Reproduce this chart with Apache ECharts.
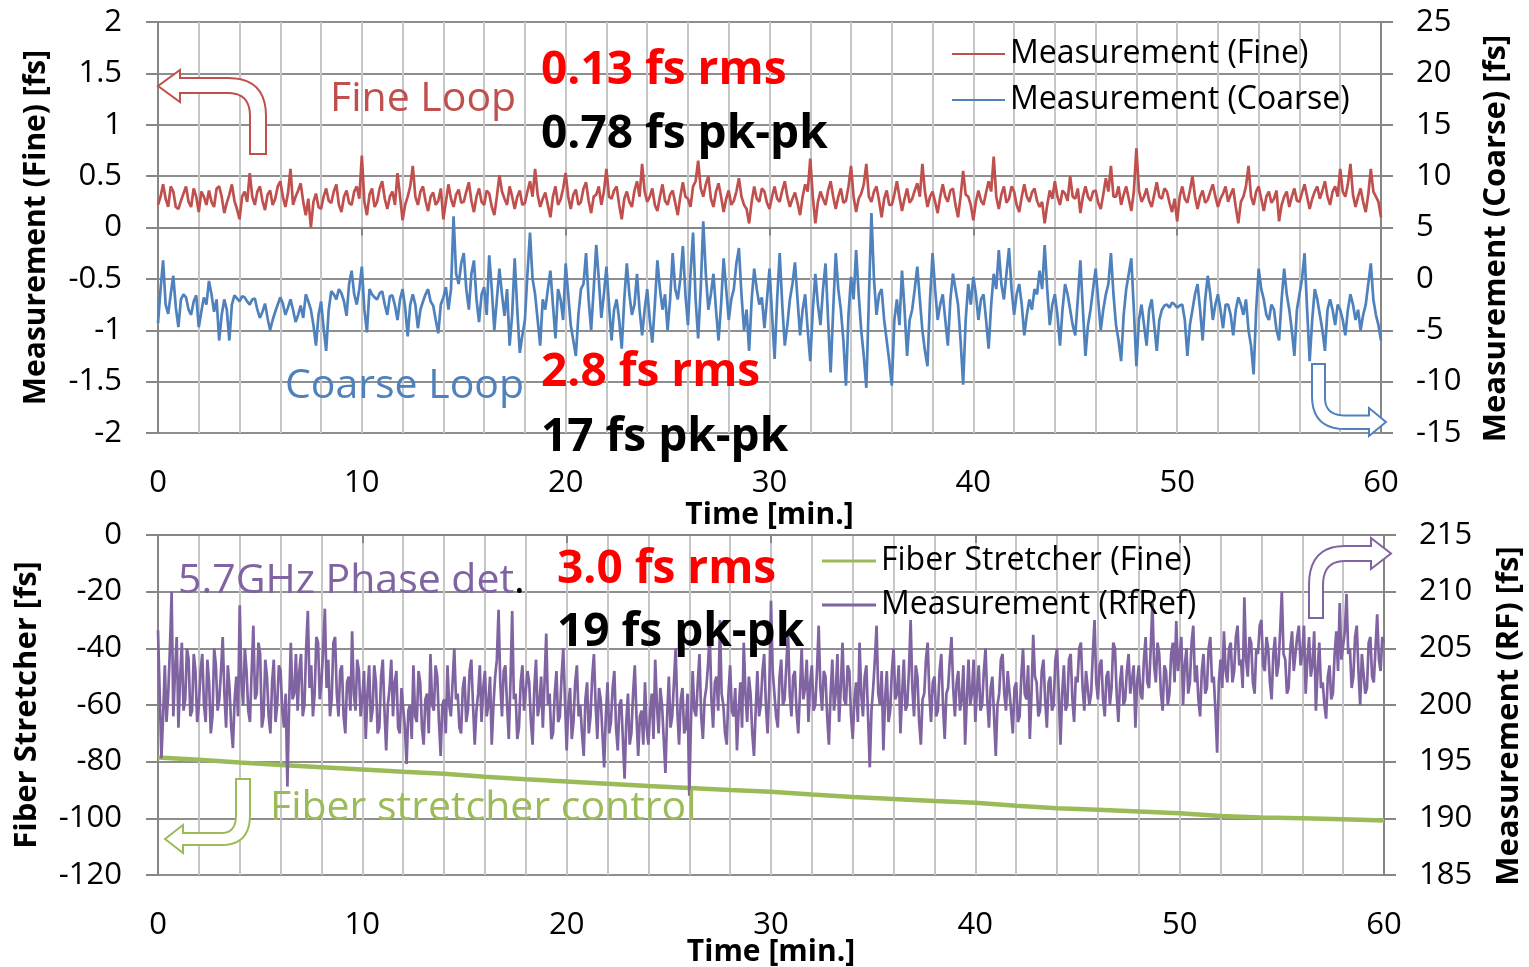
<!DOCTYPE html>
<html>
<head>
<meta charset="utf-8">
<script src="https://cdn.jsdelivr.net/npm/echarts@6/dist/echarts.min.js"></script>
<style>
html,body{margin:0;padding:0;background:#fff;}
#chart{width:1529px;height:967px;}
</style>
</head>
<body>
<div id="chart"></div>
<script>
// ---------------- DATA ----------------
// Top panel: sampling step of the traces [min]
const fineStep = 0.125;
// Measurement (Fine) [fs], left axis
const fine = [
 0.22,0.3,0.42,0.28,0.2,0.4,0.35,0.2,0.18,0.26,0.33,0.4,0.25,0.2,0.38,0.3,0.15,0.35,0.3,0.22,
 0.36,0.25,0.2,0.38,0.4,0.3,0.14,0.24,0.32,0.42,0.26,0.18,0.08,0.3,0.35,0.25,0.53,0.3,0.22,0.35,
 0.4,0.26,0.17,0.32,0.36,0.22,0.28,0.4,0.45,0.3,0.2,0.33,0.57,0.22,0.3,0.36,0.43,0.25,0.12,0.28,
 0.0,0.25,0.33,0.2,0.18,0.3,0.38,0.26,0.24,0.35,0.42,0.22,0.15,0.3,0.36,0.24,0.22,0.35,0.4,0.28,
 0.70,0.25,0.12,0.32,0.38,0.2,0.25,0.38,0.45,0.28,0.18,0.3,0.35,0.22,0.53,0.3,0.07,0.22,0.3,0.4,
 0.6,0.3,0.22,0.35,0.4,0.26,0.16,0.3,0.34,0.22,0.26,0.38,0.08,0.25,0.42,0.28,0.2,0.32,0.37,0.24,
 0.25,0.35,0.44,0.26,0.15,0.3,0.38,0.25,0.22,0.36,0.33,0.2,0.12,0.3,0.51,0.35,0.28,0.22,0.4,0.3,
 0.18,0.3,0.36,0.22,0.24,0.35,0.45,0.3,0.57,0.32,0.2,0.28,0.34,0.22,0.1,0.3,0.4,0.22,0.27,0.38,
 0.53,0.3,0.18,0.32,0.37,0.22,0.25,0.38,0.44,0.26,0.14,0.3,0.32,0.4,0.22,0.35,0.57,0.3,0.28,0.36,
 0.4,0.22,0.08,0.28,0.35,0.25,0.2,0.36,0.45,0.3,0.62,0.35,0.25,0.3,0.38,0.22,0.16,0.3,0.42,0.26,
 0.22,0.32,0.36,0.24,0.12,0.3,0.44,0.3,0.28,0.2,0.4,0.45,0.65,0.38,0.3,0.42,0.5,0.28,0.2,0.35,
 0.43,0.3,0.15,0.28,0.36,0.22,0.26,0.35,0.48,0.3,0.22,0.18,0.04,0.25,0.4,0.28,0.25,0.38,0.35,0.24,
 0.18,0.3,0.4,0.28,0.25,0.36,0.45,0.3,0.2,0.28,0.34,0.24,0.12,0.3,0.42,0.35,0.67,0.3,0.04,0.25,
 0.35,0.28,0.22,0.36,0.45,0.3,0.18,0.3,0.38,0.24,0.26,0.4,0.6,0.3,0.15,0.28,0.33,0.42,0.62,0.3,
 0.25,0.35,0.4,0.26,0.1,0.28,0.36,0.22,0.22,0.32,0.45,0.3,0.16,0.28,0.38,0.24,0.28,0.36,0.43,0.3,
 0.62,0.35,0.2,0.3,0.35,0.25,0.14,0.3,0.42,0.3,0.25,0.36,0.38,0.22,0.1,0.3,0.55,0.32,0.3,0.22,
 0.07,0.25,0.36,0.26,0.22,0.34,0.45,0.35,0.69,0.3,0.18,0.32,0.4,0.24,0.28,0.4,0.35,0.22,0.15,0.3,
 0.42,0.3,0.25,0.34,0.38,0.26,0.2,0.25,0.04,0.22,0.36,0.28,0.45,0.3,0.22,0.36,0.33,0.26,0.5,0.3,
 0.28,0.38,0.14,0.3,0.4,0.3,0.26,0.35,0.36,0.24,0.18,0.32,0.48,0.35,0.6,0.3,0.3,0.4,0.22,0.32,
 0.4,0.28,0.16,0.35,0.77,0.36,0.25,0.3,0.38,0.26,0.2,0.32,0.44,0.3,0.28,0.38,0.35,0.24,0.15,0.28,
 0.06,0.3,0.4,0.28,0.24,0.36,0.5,0.3,0.18,0.3,0.36,0.24,0.27,0.35,0.42,0.3,0.2,0.28,0.33,0.4,
 0.25,0.32,0.38,0.2,0.04,0.25,0.3,0.4,0.6,0.3,0.22,0.35,0.4,0.28,0.16,0.3,0.35,0.24,0.28,0.36,
 0.06,0.22,0.3,0.35,0.2,0.3,0.38,0.26,0.25,0.34,0.42,0.3,0.18,0.28,0.35,0.4,0.28,0.36,0.45,0.3,
 0.22,0.35,0.4,0.3,0.57,0.35,0.3,0.42,0.62,0.32,0.2,0.3,0.38,0.25,0.15,0.32,0.57,0.35,0.3,0.25,
 0.1
];
const coarseStep = 0.125;
// Measurement (Coarse) [fs], right axis
const coarse = [
 -4.3,-1.0,1.8,-2.5,-3.4,-1.5,0.3,-2.8,-4.7,-2.0,-1.5,-1.8,-3.0,-3.5,-2.2,-1.6,-4.7,-3.2,-1.8,-2.5,
 -0.2,-1.5,-3.2,-2.0,-6.0,-3.5,-2.0,-3.0,-6.0,-2.5,-1.6,-1.9,-2.2,-1.7,-1.8,-2.2,-2.5,-2.0,-1.9,-3.0,
 -3.8,-3.2,-2.4,-3.8,-5.0,-4.0,-3.2,-2.5,-1.8,-2.4,-3.5,-2.8,-2.0,-3.0,-4.2,-3.5,-2.6,-3.8,-1.5,-2.2,
 -3.0,-4.5,-6.5,-3.5,-2.2,-4.8,-7.0,-3.0,-1.2,-1.5,-2.0,-1.0,-1.4,-2.2,-3.6,-0.5,0.8,-1.5,-2.5,-1.0,
 1.2,-3.0,-5.2,-1.0,-1.5,-1.8,-2.0,-1.4,-1.2,-2.5,-3.5,-1.7,-1.6,-2.6,-4.0,-2.0,-1.0,-2.8,-5.6,-2.5,
 -1.5,-2.5,-4.8,-3.0,-2.2,-1.5,-1.0,-2.2,-2.6,-4.0,-5.3,-2.5,-1.8,-0.8,-3.0,-1.0,6.1,0.5,-0.5,1.5,
 2.5,-1.0,-3.0,0.5,1.8,-2.0,-4.2,-1.5,-0.8,-3.5,2.3,-1.0,-5.0,-2.0,1.0,-1.5,-3.6,-1.0,-6.5,-3.5,
 2.0,-3.0,-7.2,-5.5,-4.0,0.5,4.5,0.0,-1.5,-4.0,-6.5,-2.0,-3.0,-1.0,0.8,-2.5,-5.8,-1.0,-2.0,-4.0,
 1.5,-1.5,-4.5,-6.0,-7.5,-3.5,-1.0,-0.5,2.5,-2.0,-5.0,-1.0,3.3,0.0,-3.8,-1.5,1.2,-2.5,-6.0,-3.0,
 -2.0,-4.0,-6.8,-2.0,1.5,-1.5,-3.5,-2.5,0.5,-3.0,-5.5,-3.0,-1.0,-4.0,-6.2,-2.5,1.8,-1.0,-3.0,-1.5,
 -5.0,-2.0,2.5,-1.0,-2.0,0.0,3.2,-1.5,-4.5,0.5,4.5,-2.0,-5.8,-1.0,5.6,0.5,-3.0,-1.5,0.5,-3.0,
 -6.0,-2.5,2.0,-1.0,-4.0,-2.0,-1.0,1.5,3.0,-1.5,-5.0,-3.0,-7.0,-2.0,1.0,-1.0,-2.5,-1.8,-4.8,-2.0,
 1.0,-3.5,-7.8,-2.0,2.5,-2.5,-6.5,-4.5,-2.0,-0.5,1.6,-2.0,-5.5,-3.0,-1.5,-5.0,-8.0,-3.0,0.5,-2.5,
 -4.5,-1.0,1.5,-4.0,-9.1,-3.0,2.5,-1.0,-3.0,-6.0,-10.4,-3.5,0.2,-2.0,2.8,-1.5,-5.0,-7.5,-10.6,-2.0,
 6.4,0.0,-3.5,-1.5,-1.0,-4.0,-6.0,-8.0,-10.4,-4.0,-2.0,-4.5,0.8,-3.0,-7.5,-4.0,-3.0,-1.0,1.2,-2.0,
 -5.0,-7.0,-8.5,-2.0,2.5,-1.0,-4.0,-2.5,-1.5,-4.0,-6.5,-2.0,0.5,-1.0,-2.5,-6.0,-10.3,-4.0,-0.5,-2.5,
 0.2,-1.5,-4.0,-2.0,-1.5,-4.0,-6.8,-2.5,0.5,-1.0,2.8,-0.5,-2.0,0.5,3.0,-1.0,-3.5,-1.5,-0.5,-2.5,
 -5.5,-3.5,-2.0,-3.0,-1.0,-1.5,0.8,-1.0,3.3,-1.0,-4.5,-2.5,-1.5,-3.5,-6.5,-3.0,-0.5,-1.5,-3.0,-4.5,
 -5.5,-2.0,1.8,-3.0,-7.5,-4.5,-3.0,-1.0,1.0,-2.0,-5.0,-3.0,-1.5,-0.5,2.5,-1.5,-4.5,-6.0,-8.0,-3.5,
 -1.0,0.5,2.0,-3.0,-8.5,-4.0,-2.5,-4.5,-6.5,-3.0,-2.0,-4.5,-7.0,-4.0,-3.0,-2.6,-2.5,-2.8,-2.3,-2.5,
 -2.8,-2.6,-2.5,-4.0,-7.5,-4.5,-3.0,-1.5,-0.5,-3.0,-6.0,-2.0,0.3,-1.5,-4.0,-2.5,-1.5,-3.0,-4.8,-2.5,
 -2.5,-3.5,-5.5,-3.0,-1.8,-2.5,-3.5,-2.0,-5.0,-6.5,-9.3,-3.0,1.0,-1.0,-2.0,-3.5,-4.0,-2.5,-3.0,-5.0,
 -6.0,-2.0,1.0,-1.5,-3.0,-5.0,-7.5,-3.0,-1.5,0.0,2.5,-3.0,-8.0,-4.0,-1.0,-2.0,-3.5,-5.0,-7.0,-3.0,
 -2.0,-3.0,-4.5,-2.5,-3.0,-4.0,-5.5,-3.0,-1.5,-2.5,-4.0,-3.0,-5.0,-3.5,-2.5,-0.5,1.5,-2.0,-3.5,-4.5,
 -6.0
];
// Bottom panel
const rfStep = 1 / 12;
// Measurement (RfRef) [fs], right axis
const rfRef = [
 206.6,201.0,195.3,199.0,203.5,198.5,201.0,205.0,210.0,199.0,203.0,206.0,198.0,202.5,205.5,199.5,200.5,205.0,204.0,199.0,199.5,204.5,203.0,198.5,
 200.0,203.0,204.5,200.0,198.5,204.0,202.0,197.5,199.0,205.0,203.5,199.5,200.5,203.0,206.0,201.0,198.0,203.5,201.5,198.0,196.2,200.5,202.5,199.0,
 208.8,202.0,200.0,205.0,203.0,199.5,198.5,203.0,207.0,200.5,201.0,205.5,204.5,198.0,199.0,204.0,202.5,199.0,197.5,202.0,204.0,198.5,200.0,203.5,
 203.0,199.5,198.0,201.0,192.8,200.0,205.5,200.5,201.0,204.5,199.5,203.0,204.5,199.0,200.0,205.0,208.3,201.5,203.5,199.0,201.0,206.0,205.5,200.5,
 202.0,205.0,208.5,201.5,204.0,199.0,200.5,205.5,206.0,201.0,199.0,203.0,203.5,199.0,197.5,202.0,202.5,199.5,206.5,201.0,199.5,204.0,203.0,199.0,
 200.5,203.0,197.0,201.0,203.5,198.5,199.5,203.5,202.0,197.5,198.0,202.5,204.0,199.5,196.0,200.0,201.5,204.0,199.0,202.0,203.0,198.0,197.5,201.5,
 201.5,198.0,194.8,199.5,200.0,197.0,203.5,199.0,198.5,203.0,202.0,198.0,196.5,200.5,201.0,197.5,204.5,200.0,199.5,203.5,202.5,198.5,195.5,200.0,
 200.5,197.5,203.5,200.0,199.0,202.0,205.0,200.5,201.0,198.0,197.5,201.5,202.5,198.5,199.5,203.0,204.0,200.0,196.5,199.5,201.0,203.5,198.5,201.5,
 203.0,199.0,200.0,202.5,196.5,200.0,202.5,204.0,208.4,202.0,199.0,203.0,203.5,200.0,197.0,202.0,208.3,200.5,201.0,197.0,198.0,202.0,203.5,199.5,
 199.5,203.0,202.0,198.5,196.5,201.5,204.0,199.0,200.0,202.5,198.0,202.0,206.3,200.0,201.0,197.0,197.5,201.0,203.0,198.5,199.0,202.5,205.0,200.5,
 196.0,200.0,201.5,197.0,198.5,202.0,203.5,199.0,200.0,197.5,195.5,200.5,202.0,197.5,199.0,202.5,204.5,200.0,197.0,201.5,200.5,197.5,194.5,199.0,
 202.0,197.5,198.5,201.5,203.0,198.0,196.0,200.0,200.5,197.0,193.5,198.5,201.0,196.5,197.5,201.0,203.5,199.0,195.5,199.0,199.5,196.5,202.0,198.0,
 196.5,199.5,201.0,197.0,204.0,200.0,197.5,201.5,200.0,197.0,194.0,199.0,202.5,198.0,199.0,202.0,205.0,199.5,196.5,200.5,201.5,197.5,198.0,201.0,
 192.0,198.5,203.0,199.5,199.0,202.0,204.5,199.0,197.0,200.5,201.5,203.5,206.5,200.5,198.0,202.0,202.5,199.5,207.5,201.0,200.0,197.5,196.5,201.0,
 203.5,199.5,199.0,201.5,196.0,199.5,202.0,198.0,205.5,201.0,198.5,202.5,201.0,197.5,195.5,199.5,203.0,199.0,200.0,203.0,204.5,200.0,197.5,201.5,
 209.2,203.0,201.0,199.0,198.0,202.5,204.0,200.0,200.5,203.5,206.5,201.0,199.0,202.5,203.0,199.5,197.5,201.0,205.0,200.5,201.5,204.0,198.5,202.0,
 203.5,199.5,200.0,203.0,207.0,201.5,199.5,203.0,202.5,199.0,196.5,201.0,204.0,199.5,201.0,204.5,198.5,201.5,205.5,200.5,200.0,203.5,203.0,199.0,
 197.0,200.5,202.0,198.5,205.5,201.0,199.0,202.5,203.5,199.0,194.5,199.5,201.5,204.0,207.0,201.0,200.0,203.0,196.0,200.5,203.0,198.5,199.5,203.0,
 205.0,200.5,201.0,203.5,197.5,201.0,204.0,199.5,200.0,203.0,207.5,201.5,199.0,203.5,202.5,198.5,196.5,200.5,201.0,204.0,205.5,201.0,198.5,202.0,
 202.5,199.0,199.5,203.0,204.5,200.0,197.0,201.0,201.5,204.0,206.0,201.5,199.0,202.0,203.0,199.5,200.5,203.5,196.5,200.5,204.0,200.0,201.0,204.0,
 198.5,201.5,203.5,199.5,200.0,203.0,205.0,200.5,198.0,201.5,202.5,199.0,195.5,200.0,201.0,204.0,204.5,201.0,199.5,203.0,203.0,199.5,197.5,201.5,
 202.0,198.5,199.0,202.5,205.0,201.0,200.5,203.5,197.0,201.0,206.2,202.5,202.0,199.0,199.5,203.0,204.0,200.5,198.0,202.0,202.5,199.5,200.0,204.0,
 205.0,201.0,196.5,201.0,203.5,199.5,200.0,204.0,204.5,200.5,198.5,202.5,202.0,205.0,205.5,201.5,199.5,203.0,203.0,200.0,201.0,204.5,207.5,202.0,
 200.5,203.5,204.0,200.5,199.0,202.5,203.0,200.0,201.5,205.5,205.0,201.0,198.5,202.0,203.5,200.0,200.5,203.0,204.5,201.0,201.0,203.5,198.0,202.0,
 203.5,201.0,200.5,204.0,206.0,202.0,201.5,205.0,209.0,203.5,202.0,205.5,204.5,201.0,199.5,203.5,203.0,200.0,201.0,204.5,205.5,202.0,207.4,203.0,
 203.0,206.0,200.0,203.5,205.0,201.0,202.0,205.5,207.0,202.0,203.5,200.5,199.0,203.0,204.5,201.0,201.5,205.0,206.0,202.0,202.5,199.5,195.8,202.0,
 204.0,201.5,206.5,203.0,202.0,205.0,205.5,202.0,203.0,206.0,207.0,203.5,204.0,201.5,209.5,204.0,202.5,206.0,205.5,202.0,201.0,205.0,204.5,207.0,
 207.5,203.5,203.0,206.0,205.0,202.0,200.5,204.5,206.0,202.5,203.5,206.5,210.0,204.5,204.0,201.0,201.5,205.0,206.5,203.0,203.0,206.0,207.0,203.5,
 204.5,207.0,201.0,204.0,206.0,202.5,203.5,206.5,199.5,203.0,205.5,201.5,202.0,200.0,198.8,202.5,203.5,200.5,201.0,204.5,206.5,203.0,209.0,204.0,
 204.0,206.5,209.8,204.5,205.0,201.5,202.5,206.0,207.0,203.0,200.0,204.5,204.5,201.0,201.5,205.5,206.0,202.5,202.0,205.0,208.0,204.0,203.0,206.0,
 205.5
];
// Fiber Stretcher (Fine) [fs], left axis
const stretcherTime = [0,2,4,6,8,10,12,14,16,18,20,22,24,26,28,30,32,34,36,38,40,42,44,46,48,50,52,54,56,58,60];
const stretcher = [-78.5,-79.3,-80.3,-81.2,-82.0,-82.8,-83.6,-84.3,-85.3,-86.2,-87.0,-87.8,-88.6,-89.3,-90.0,-90.6,
 -91.6,-92.5,-93.2,-93.9,-94.5,-95.6,-96.4,-97.0,-97.6,-98.2,-99.2,-99.7,-100.0,-100.3,-100.8];

// Axis tick settings
const timeTicks = {min: 0, max: 60, minor: 2, major: 10};
const fineAxis = {min: -2, max: 2, interval: 0.5};
const coarseAxis = {min: -15, max: 25, interval: 5};
const stretcherAxis = {min: -120, max: 0, interval: 20};
const rfAxis = {min: 185, max: 215, interval: 5};

// ---------------- STYLE ----------------
const FONT = 'Open Sans';
const C_RED = '#C0504D', C_BLUE = '#4F81BD', C_PURPLE = '#8064A2', C_GREEN = '#9BBB59';
const AX = '#868686';
const HGRID = '#8e8e8e';
const VGRID = '#c6c6c6';

const chart = echarts.init(document.getElementById('chart'), null, {renderer: 'canvas'});

function timeLabelAxis(gridIndex, labelMargin, nameGap) {
  return {
    gridIndex, type: 'value', min: timeTicks.min, max: timeTicks.max, interval: timeTicks.minor,
    position: 'bottom',
    axisLine: {show: false, onZero: false},
    axisTick: {show: false},
    axisLabel: {formatter: v => (v % timeTicks.major === 0 ? String(v) : ''), fontSize: 31, color: '#000', fontFamily: FONT, margin: labelMargin},
    splitLine: {show: true, lineStyle: {color: VGRID, width: 2}},
    name: 'Time [min.]', nameLocation: 'middle', nameGap: nameGap, nameMoveOverlap: false,
    nameTextStyle: {fontWeight: 'bold', fontSize: 30, fontFamily: FONT, color: '#000'}
  };
}
function zeroAxis(gridIndex, yIdx) {
  return {
    gridIndex, type: 'value', min: timeTicks.min, max: timeTicks.max, interval: timeTicks.major,
    position: 'bottom',
    axisLine: {show: true, onZero: true, onZeroAxisIndex: yIdx, lineStyle: {color: AX, width: 2}},
    axisTick: {show: true, length: 8, lineStyle: {color: AX, width: 2}},
    axisLabel: {show: false},
    splitLine: {show: false}
  };
}
function yAx(gridIndex, pos, rng, name, nameGap, split, nameSize, namePad) {
  return {
    gridIndex, type: 'value', position: pos, min: rng.min, max: rng.max, interval: rng.interval,
    axisLine: {show: true, onZero: false, lineStyle: {color: AX, width: 2}},
    axisTick: {show: true, length: 12, lineStyle: {color: AX, width: 2}},
    axisLabel: {fontSize: 31, color: '#000', fontFamily: FONT, margin: pos === 'left' ? 36 : 35},
    splitLine: {show: split, lineStyle: {color: HGRID, width: 2}},
    name: name, nameLocation: 'middle', nameGap: nameGap, nameRotate: 90,
    nameTextStyle: {fontWeight: 'bold', fontSize: nameSize, fontFamily: FONT, color: '#000', padding: namePad}
  };
}

const txt = (text, x, y, size, color, bold) => ({
  type: 'text', x, y, z: 10,
  style: {text, fill: color, font: (bold ? 'bold ' : '') + size + 'px "' + FONT + '"', align: 'left', verticalAlign: 'middle'}
});
// Outline of a bent arrow: straight segments plus quadratic corners ['Q', cx, cy, x, y]
function arrowPoints(cmds) {
  const pts = [];
  let cur = null;
  cmds.forEach(c => {
    if (c[0] === 'Q') {
      const [, cx, cy, x, y] = c;
      for (let k = 1; k <= 10; k++) {
        const s = k / 10;
        pts.push([(1 - s) * (1 - s) * cur[0] + 2 * (1 - s) * s * cx + s * s * x,
                  (1 - s) * (1 - s) * cur[1] + 2 * (1 - s) * s * cy + s * s * y]);
      }
      cur = [x, y];
    } else {
      pts.push(c);
      cur = c;
    }
  });
  return pts;
}
const arrow = (cmds, color) => ({
  type: 'polygon', z: 1, shape: {points: arrowPoints(cmds)},
  style: {fill: '#ffffff', stroke: color, lineWidth: 2}
});

const option = {
  animation: false,
  backgroundColor: '#ffffff',
  textStyle: {fontFamily: FONT},
  grid: [
    {left: 158, right: 148, top: 22, height: 411, outerBoundsMode: 'none', containLabel: false},
    {left: 158, right: 145, top: 535, height: 340, outerBoundsMode: 'none', containLabel: false}
  ],
  xAxis: [timeLabelAxis(0, 35, 67), zeroAxis(0, 0), timeLabelAxis(1, 35, 62), zeroAxis(1, 2)],
  yAxis: [
    yAx(0, 'left', fineAxis, 'Measurement (Fine) [fs]', 107, true, 30, 0),
    yAx(0, 'right', coarseAxis, 'Measurement (Coarse) [fs]', 100, false, 31, [0, 22, 0, 0]),
    yAx(1, 'left', stretcherAxis, 'Fiber Stretcher [fs]', 115, true, 31, 0),
    yAx(1, 'right', rfAxis, 'Measurement (RF) [fs]', 110, false, 31, [0, 22, 0, 0])
  ],
  legend: [
    {data: ['Measurement (Fine)', 'Measurement (Coarse)'], orient: 'vertical', left: 952, top: 36, padding: 0,
     icon: 'rect', itemWidth: 53, itemHeight: 2, itemGap: 10, selectedMode: false,
     textStyle: {fontSize: 32, fontFamily: FONT, color: '#000', lineHeight: 36}},
    {data: ['Fiber Stretcher (Fine)', 'Measurement (RfRef)'], orient: 'vertical', left: 822, top: 543, padding: 0,
     icon: 'rect', itemWidth: 54, itemHeight: 3, itemGap: 8, selectedMode: false,
     textStyle: {fontSize: 32, fontFamily: FONT, color: '#000', lineHeight: 36}}
  ],
  series: [
    {name: 'Measurement (Fine)', type: 'line', xAxisIndex: 0, yAxisIndex: 0, symbol: 'none', showSymbol: false,
     color: C_RED, lineStyle: {color: C_RED, width: 2.7}, data: fine.map((v, i) => [i * fineStep, v])},
    {name: 'Measurement (Coarse)', type: 'line', xAxisIndex: 0, yAxisIndex: 1, symbol: 'none', showSymbol: false,
     color: C_BLUE, lineStyle: {color: C_BLUE, width: 2.7}, data: coarse.map((v, i) => [i * coarseStep, v])},
    {name: 'Fiber Stretcher (Fine)', type: 'line', xAxisIndex: 2, yAxisIndex: 2, symbol: 'none', showSymbol: false,
     color: C_GREEN, lineStyle: {color: C_GREEN, width: 4.5}, data: stretcherTime.map((t, i) => [t, stretcher[i]])},
    {name: 'Measurement (RfRef)', type: 'line', xAxisIndex: 2, yAxisIndex: 3, symbol: 'none', showSymbol: false,
     color: C_PURPLE, lineStyle: {color: C_PURPLE, width: 2.7}, data: rfRef.map((v, i) => [i * rfStep, v])}
  ],
  graphic: [
    arrow([[158,86],[180,70],[180,78],[228,78],['Q',266,78,266,116],[266,154],[250,154],[250,116],['Q',250,93,228,93],[180,93],[180,102]], C_RED),
    arrow([[1312,364],[1325,364],[1325,398],['Q',1325,415.5,1345,415.5],[1369,415.5],[1369,408],[1386,422],[1369,436],[1369,429],[1345,429],['Q',1312,429,1312,396]], C_BLUE),
    arrow([[1309,618],[1309,585],['Q',1309,546,1345,546],[1371,546],[1371,538],[1391,553.5],[1371,569],[1371,561],[1345,561],['Q',1323,561,1323,585],[1323,618]], C_PURPLE),
    arrow([[236,779],[250,779],[250,815],['Q',250,845,222,845],[183,845],[183,853],[165,839],[183,825],[183,833],[222,833],['Q',236,833,236,815]], C_GREEN),
    txt('Fine Loop', 330, 99, 41, C_RED, false),
    txt('0.13 fs rms', 541, 71, 46, '#FF0000', true),
    txt('0.78 fs pk-pk', 541, 135, 46, '#000000', true),
    txt('Coarse Loop', 285, 386, 41, C_BLUE, false),
    txt('2.8 fs rms', 541, 373, 46, '#FF0000', true),
    txt('17 fs pk-pk', 541, 438, 46, '#000000', true),
    {type: 'text', x: 178, y: 581, z: 10,
     style: {text: '{p|5.7GHz Phase det}{k|.}', align: 'left', verticalAlign: 'middle',
       rich: {p: {fill: C_PURPLE, font: '41px "' + FONT + '"'}, k: {fill: '#000', font: '41px "' + FONT + '"'}}}},
    txt('3.0 fs rms', 557, 570, 46, '#FF0000', true),
    txt('19 fs pk-pk', 557, 633, 46, '#000000', true),
    txt('Fiber stretcher control', 270, 808, 41, C_GREEN, false)
  ]
};
chart.setOption(option);
</script>
</body>
</html>
